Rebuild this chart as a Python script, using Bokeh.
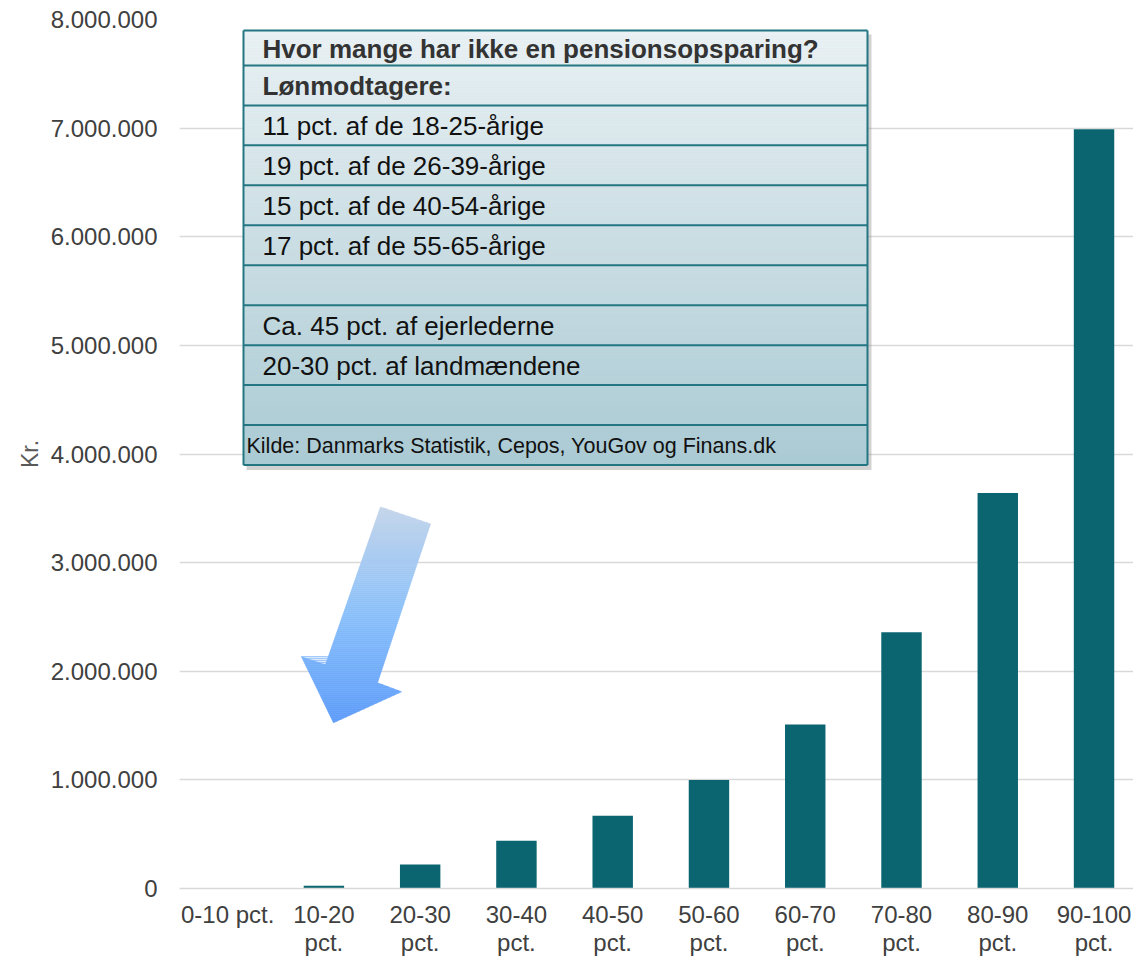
from bokeh.plotting import figure
from bokeh.models import Range1d, FixedTicker, ColumnDataSource
from bokeh.embed import file_html
from bokeh.resources import INLINE
from bokeh.core.properties import value

# ---------------- data ----------------
categories = ["0-10 pct.", "10-20\npct.", "20-30\npct.", "30-40\npct.", "40-50\npct.",
              "50-60\npct.", "60-70\npct.", "70-80\npct.", "80-90\npct.", "90-100\npct."]
values = [0, 25000, 220000, 440000, 670000, 1000000, 1510000, 2360000, 3640000, 6990000]
y_ticks = [0, 1000000, 2000000, 3000000, 4000000, 5000000, 6000000, 7000000, 8000000]
y_tick_labels = ["0", "1.000.000", "2.000.000", "3.000.000", "4.000.000",
                 "5.000.000", "6.000.000", "7.000.000", "8.000.000"]
y_label = "Kr."
table_header = "Hvor mange har ikke en pensionsopsparing?"
table_rows = ["Lønmodtagere:", "11 pct. af de 18-25-årige", "19 pct. af de 26-39-årige",
              "15 pct. af de 40-54-årige", "17 pct. af de 55-65-årige", "",
              "Ca. 45 pct. af ejerlederne", "20-30 pct. af landmændene", ""]
table_source = "Kilde: Danmarks Statistik, Cepos, YouGov og Finans.dk"

FONT = "Liberation Sans"
TXT = "#404040"

xs = list(range(len(categories)))

p = figure(width=1133, height=958, output_backend="svg", toolbar_location=None,
           x_range=Range1d(-0.5, 9.41), y_range=Range1d(0, 8000000),
           min_border_left=179, min_border_right=0, min_border_top=19, min_border_bottom=69)
p.outline_line_color = None
p.background_fill_color = "white"
p.border_fill_color = "white"

# overlay pixel-like ranges (reference page coordinates)
p.extra_x_ranges = {"px": Range1d(179, 1133)}
p.extra_y_ranges = {"py": Range1d(889, 19)}

# bars
src = ColumnDataSource(dict(x=xs, top=values))
p.vbar(x="x", top="top", bottom=0, width=0.42, source=src,
       fill_color="#0a6571", line_color=None)

# axes
p.xaxis.ticker = FixedTicker(ticks=xs)
p.xaxis.major_label_overrides = {i: c for i, c in zip(xs, categories)}
p.xaxis.axis_line_color = "#d9d9d9"
p.xaxis.axis_line_width = 1.5
p.xaxis.major_tick_line_color = None
p.xaxis.minor_tick_line_color = None
p.xaxis.major_label_text_font = FONT
p.xaxis.major_label_text_font_size = "24px"
p.xaxis.major_label_text_color = TXT
p.xaxis.major_label_standoff = 6
p.xaxis.major_label_text_line_height = 1.05

p.yaxis.ticker = FixedTicker(ticks=y_ticks)
p.yaxis.major_label_overrides = {t: l for t, l in zip(y_ticks, y_tick_labels)}
p.yaxis.axis_line_color = None
p.yaxis.major_tick_line_color = None
p.yaxis.minor_tick_line_color = None
p.yaxis.major_label_text_font = FONT
p.yaxis.major_label_text_font_size = "24px"
p.yaxis.major_label_text_color = TXT
p.yaxis.major_label_standoff = 16
p.yaxis.axis_label = y_label
p.yaxis.axis_label_text_font = FONT
p.yaxis.axis_label_text_font_size = "23px"
p.yaxis.axis_label_text_font_style = "normal"
p.yaxis.axis_label_text_color = "#595959"
p.yaxis.axis_label_standoff = 5

p.xgrid.grid_line_color = None
p.ygrid.grid_line_color = "#d9d9d9"
p.ygrid.grid_line_width = 1.5

# ---------------- arrow (decoration, gradient by bands) ----------------
arrow_shape = [(380, 507), (430, 524), (377, 683), (401, 692), (333, 723), (301, 657), (325, 665)]


def clip(poly, y0, keep_above):
    out = []
    n = len(poly)
    for i in range(n):
        a = poly[i]
        b = poly[(i + 1) % n]
        ina = a[1] >= y0 if keep_above else a[1] <= y0
        inb = b[1] >= y0 if keep_above else b[1] <= y0
        if ina:
            out.append(a)
        if ina != inb:
            t = (y0 - a[1]) / (b[1] - a[1])
            out.append((a[0] + t * (b[0] - a[0]), y0))
    return out


def lerp_col(stops, t):
    for (t0, c0), (t1, c1) in zip(stops[:-1], stops[1:]):
        if t0 <= t <= t1:
            u = (t - t0) / (t1 - t0) if t1 > t0 else 0
            c = tuple(int(round(c0[k] + u * (c1[k] - c0[k]))) for k in range(3))
            return "#%02x%02x%02x" % c
    return "#%02x%02x%02x" % stops[-1][1]


arrow_stops = [(0.0, (198, 214, 234)), (0.5, (138, 192, 250)), (1.0, (94, 156, 250))]
ax_l, ay_l, ac = [], [], []
ytop, ybot = 507, 723
step = 2
y = ytop
while y < ybot:
    band = clip(clip(arrow_shape, y, True), min(y + step, ybot), False)
    if len(band) >= 3:
        ax_l.append([q[0] for q in band])
        ay_l.append([q[1] for q in band])
        ac.append(lerp_col(arrow_stops, (y + step / 2 - ytop) / (ybot - ytop)))
    y += step
p.patches(xs=ax_l, ys=ay_l, fill_color=ac, line_color=ac, line_width=0.6,
          x_range_name="px", y_range_name="py")

# ---------------- table box ----------------
tx0, tx1, ty0, ty1 = 243, 867, 30, 465
header_h = 35
row_h = 40

# shadow
p.quad(left=tx0 + 3, right=tx1 + 4, top=ty0 + 4, bottom=ty1 + 5, fill_color="#7f7f7f",
       fill_alpha=0.35, line_color=None, x_range_name="px", y_range_name="py")

tab_stops = [(0.0, (233, 241, 244)), (1.0, (170, 202, 211))]
qt, qb, qc = [], [], []
y = ty0
while y < ty1:
    y2 = min(y + 3, ty1)
    qt.append(y)
    qb.append(y2)
    qc.append(lerp_col(tab_stops, (y - ty0) / (ty1 - ty0)))
    y = y2
p.quad(left=tx0, right=tx1, top=qt, bottom=qb, fill_color=qc, line_color=qc, line_width=0.5,
       x_range_name="px", y_range_name="py")

bounds = [ty0, ty0 + header_h] + [ty0 + header_h + row_h * (i + 1) for i in range(len(table_rows) + 1)]
p.segment(x0=[tx0] * len(bounds), x1=[tx1] * len(bounds), y0=bounds, y1=bounds,
          line_color="#237682", line_width=2, x_range_name="px", y_range_name="py")
p.segment(x0=[tx0, tx1], x1=[tx0, tx1], y0=[ty0, ty0], y1=[ty1, ty1],
          line_color="#237682", line_width=2, x_range_name="px", y_range_name="py")

centers = [(bounds[i] + bounds[i + 1]) / 2 for i in range(len(bounds) - 1)]
p.text(x=[262], y=[centers[0] + 1], text=[table_header], text_font=value(FONT),
       text_font_size="26px", text_font_style="bold", text_color="#333333",
       text_baseline="middle", x_range_name="px", y_range_name="py")
p.text(x=[262], y=[centers[1] + 1], text=[table_rows[0]], text_font=value(FONT),
       text_font_size="26px", text_font_style="bold", text_color="#333333",
       text_baseline="middle", x_range_name="px", y_range_name="py")
p.text(x=[262] * (len(table_rows) - 1), y=[c + 1 for c in centers[2:2 + len(table_rows) - 1]],
       text=table_rows[1:], text_font=value(FONT), text_font_size="26px", text_color="#111111",
       text_baseline="middle", x_range_name="px", y_range_name="py")
p.text(x=[246], y=[centers[-1] + 1], text=[table_source], text_font=value(FONT),
       text_font_size="21.5px", text_color="#111111", text_baseline="middle",
       x_range_name="px", y_range_name="py")

open("out.html", "w").write(file_html(p, INLINE))
